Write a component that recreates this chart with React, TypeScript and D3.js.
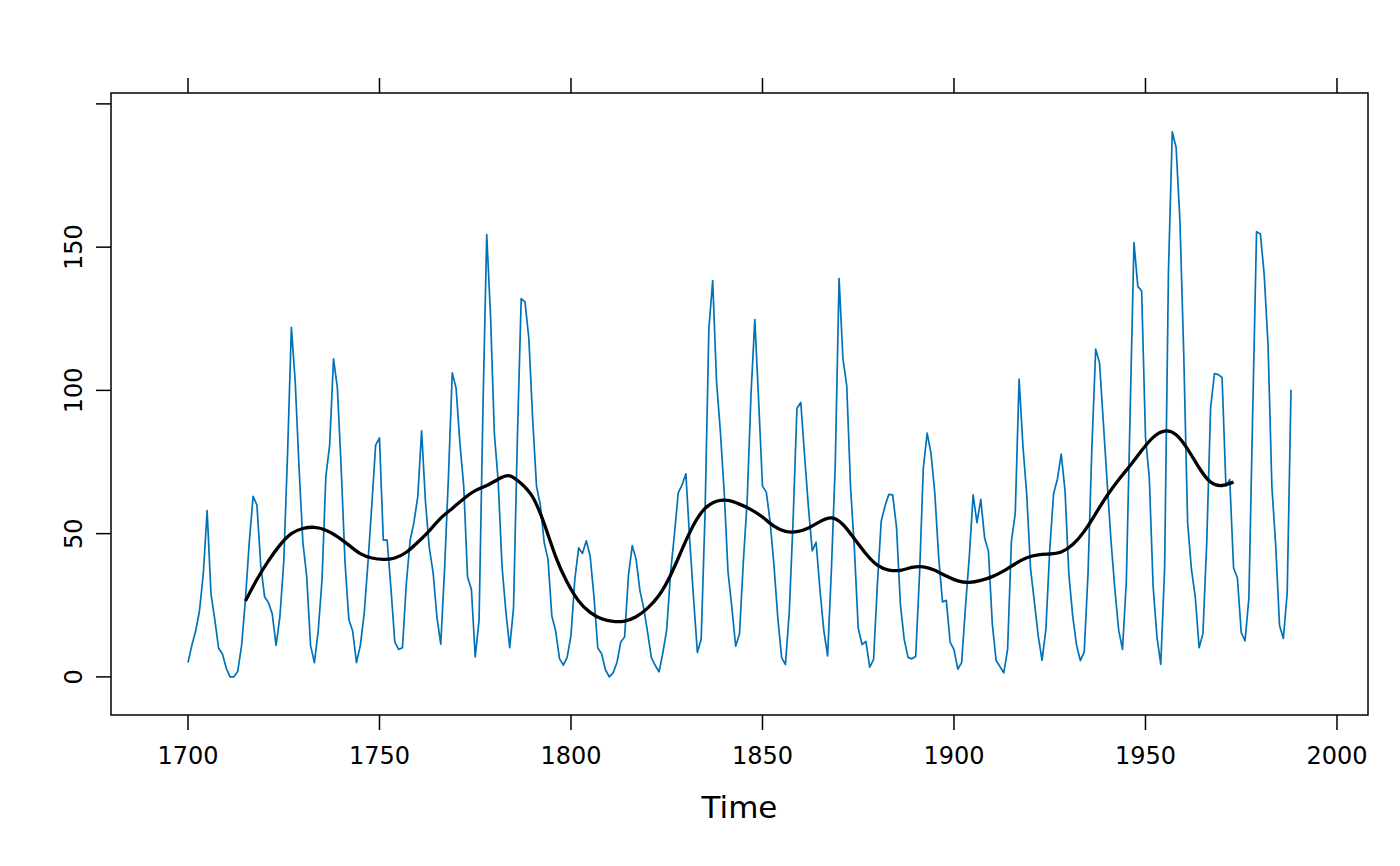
import React from 'react';
import * as d3 from 'd3';

// yearly sunspot numbers, 1700 - 1988
const startYear = 1700;
const sunspots: number[] = [
  5, 11, 16, 23, 36, 58, 29, 20, 10, 8,
  3, 0, 0, 2, 11, 27, 47, 63, 60, 39,
  28, 26, 22, 11, 21, 40, 78, 122, 103, 73,
  47, 35, 11, 5, 16, 34, 70, 81, 111, 101,
  73, 40, 20, 16, 5, 11, 22, 40, 60, 80.9,
  83.4, 47.7, 47.8, 30.7, 12.2, 9.6, 10.2, 32.4, 47.6, 54,
  62.9, 85.9, 61.2, 45.1, 36.4, 20.9, 11.4, 37.8, 69.8, 106.1,
  100.8, 81.6, 66.5, 34.8, 30.6, 7, 19.8, 92.5, 154.4, 125.9,
  84.8, 68.1, 38.5, 22.8, 10.2, 24.1, 82.9, 132, 130.9, 118.1,
  89.9, 66.6, 60, 46.9, 41, 21.3, 16, 6.4, 4.1, 6.8,
  14.5, 34, 45, 43.1, 47.5, 42.2, 28.1, 10.1, 8.1, 2.5,
  0, 1.4, 5, 12.2, 13.9, 35.4, 45.8, 41.1, 30.1, 23.9,
  15.6, 6.6, 4, 1.8, 8.5, 16.6, 36.3, 49.6, 64.2, 67,
  70.9, 47.8, 27.5, 8.5, 13.2, 56.9, 121.5, 138.3, 103.2, 85.7,
  64.6, 36.7, 24.2, 10.7, 15, 40.1, 61.5, 98.5, 124.7, 96.3,
  66.6, 64.5, 54.1, 39, 20.6, 6.7, 4.3, 22.7, 54.8, 93.8,
  95.8, 77.2, 59.1, 44, 47, 30.5, 16.3, 7.3, 37.6, 74,
  139, 111.2, 101.6, 66.2, 44.7, 17, 11.3, 12.4, 3.4, 6,
  32.3, 54.3, 59.7, 63.7, 63.5, 52.2, 25.4, 13.1, 6.8, 6.3,
  7.1, 35.6, 73, 85.1, 78, 64, 41.8, 26.2, 26.7, 12.1,
  9.5, 2.7, 5, 24.4, 42, 63.5, 53.8, 62, 48.5, 43.9,
  18.6, 5.7, 3.6, 1.4, 9.6, 47.4, 57.1, 103.9, 80.6, 63.6,
  37.6, 26.1, 14.2, 5.8, 16.7, 44.3, 63.9, 69, 77.8, 64.9,
  35.7, 21.2, 11.1, 5.7, 8.7, 36.1, 79.7, 114.4, 109.6, 88.8,
  67.8, 47.5, 30.6, 16.3, 9.6, 33.2, 92.6, 151.6, 136.3, 134.7,
  83.9, 69.4, 31.5, 13.9, 4.4, 38, 141.7, 190.2, 184.8, 159,
  112.3, 53.9, 37.5, 27.9, 10.2, 15.1, 47, 93.8, 105.9, 105.5,
  104.5, 66.6, 68.9, 38, 34.5, 15.5, 12.6, 27.5, 92.5, 155.4,
  154.6, 140.4, 115.9, 66.6, 45.9, 17.9, 13.4, 29.2, 100.2,
];

// smoothed trend
const smoothYears: number[] = [
  1715, 1718, 1721, 1724, 1727, 1730, 1733, 1736, 1739,
  1742, 1745, 1748, 1751, 1754, 1757, 1760, 1763, 1766, 1769,
  1772, 1775, 1778, 1781, 1784, 1787, 1790, 1793, 1796,
  1799, 1802, 1805, 1808, 1811, 1814, 1817, 1820, 1823,
  1826, 1829, 1832, 1835, 1838, 1841, 1844, 1847, 1850, 1853,
  1856, 1859, 1862, 1865, 1868, 1871, 1874, 1877, 1880, 1883,
  1886, 1889, 1892, 1895, 1898, 1901, 1904, 1907, 1910, 1913,
  1916, 1919, 1922, 1925, 1928, 1931, 1934, 1937, 1940, 1943,
  1946, 1949, 1952, 1955, 1958, 1961, 1964, 1967,
  1970, 1973,
];
const smoothValues: number[] = [
  26.5, 34, 40.5, 46, 50, 51.8, 52.2, 51.2, 49,
  46, 43, 41.5, 41, 41.5, 43.5, 47, 51, 55.4, 58.8,
  62.2, 65, 66.8, 69, 70.2, 67.5, 62.8, 53.5, 42,
  33, 26.5, 22.5, 20.3, 19.4, 19.5, 21, 24, 28.5,
  35.5, 44.5, 53, 58.8, 61.3, 61.6, 60.3, 58.4, 55.8, 52.6,
  50.8, 50.7, 52, 54.2, 55.5, 53.2, 48.2, 43, 39, 37.3,
  37.2, 38.2, 38.4, 37.2, 35.2, 33.5, 33, 33.7, 35, 37,
  39.5, 41.6, 42.6, 42.9, 43.6, 46.2, 50.8, 57, 63.3, 68.8,
  73.8, 79, 83.6, 85.8, 84.5, 79.5, 73, 68,
  66.8, 68,
];

const xTicks = [1700, 1750, 1800, 1850, 1900, 1950, 2000];
const yTicks = [0, 50, 100, 150, 200];
const yLabels = [0, 50, 100, 150];

const W = 1400;
const H = 866;
const panel = { left: 111, right: 1368, top: 93, bottom: 715 };
const font = 'DejaVu Sans, sans-serif';

export default function App() {
  const x = d3.scaleLinear().domain([1679.9, 2008.1]).range([panel.left, panel.right]);
  const y = d3.scaleLinear().domain([-13.3, 203.8]).range([panel.bottom, panel.top]);

  const raw = sunspots.map((v, i) => [startYear + i, v] as [number, number]);
  const smooth = smoothYears.map((yr, i) => [yr, smoothValues[i]] as [number, number]);

  const rawLine = d3.line<[number, number]>().x(d => x(d[0])).y(d => y(d[1]));
  const smoothLine = d3
    .line<[number, number]>()
    .x(d => x(d[0]))
    .y(d => y(d[1]))
    .curve(d3.curveNatural);

  const tick = 15;

  return (
    <svg width={W} height={H} style={{ display: 'block', position: 'absolute', left: 0, top: 0 }}>
      <rect x={0} y={0} width={W} height={H} fill="#fff" />
      <defs>
        <clipPath id="panelClip">
          <rect x={panel.left} y={panel.top} width={panel.right - panel.left} height={panel.bottom - panel.top} />
        </clipPath>
      </defs>

      <g clipPath="url(#panelClip)">
        <path d={rawLine(raw) ?? ''} fill="none" stroke="#0072b8" strokeWidth={1.7} strokeLinejoin="round" />
        <path d={smoothLine(smooth) ?? ''} fill="none" stroke="#000" strokeWidth={3.3} strokeLinejoin="round" />
      </g>

      <rect
        x={panel.left}
        y={panel.top}
        width={panel.right - panel.left}
        height={panel.bottom - panel.top}
        fill="none"
        stroke="#000"
        strokeWidth={1.5}
      />

      {/* bottom & top ticks */}
      {xTicks.map(t => (
        <g key={`xt${t}`} stroke="#000" strokeWidth={1.5}>
          <line x1={x(t)} x2={x(t)} y1={panel.bottom} y2={panel.bottom + tick} />
          <line x1={x(t)} x2={x(t)} y1={panel.top} y2={panel.top - tick} />
        </g>
      ))}
      {xTicks.map(t => (
        <text key={`xl${t}`} x={x(t)} y={764} textAnchor="middle" fontFamily={font} fontSize={24} fill="#000">
          {t}
        </text>
      ))}

      {/* left ticks */}
      {yTicks.map(t => (
        <line key={`yt${t}`} x1={panel.left} x2={panel.left - tick} y1={y(t)} y2={y(t)} stroke="#000" strokeWidth={1.5} />
      ))}
      {yLabels.map(t => (
        <text
          key={`yl${t}`}
          transform={`translate(82,${y(t)}) rotate(-90)`}
          textAnchor="middle"
          fontFamily={font}
          fontSize={24}
          fill="#000"
        >
          {t}
        </text>
      ))}

      <text x={(panel.left + panel.right) / 2} y={818} textAnchor="middle" fontFamily={font} fontSize={31} fill="#000">
        Time
      </text>
    </svg>
  );
}
